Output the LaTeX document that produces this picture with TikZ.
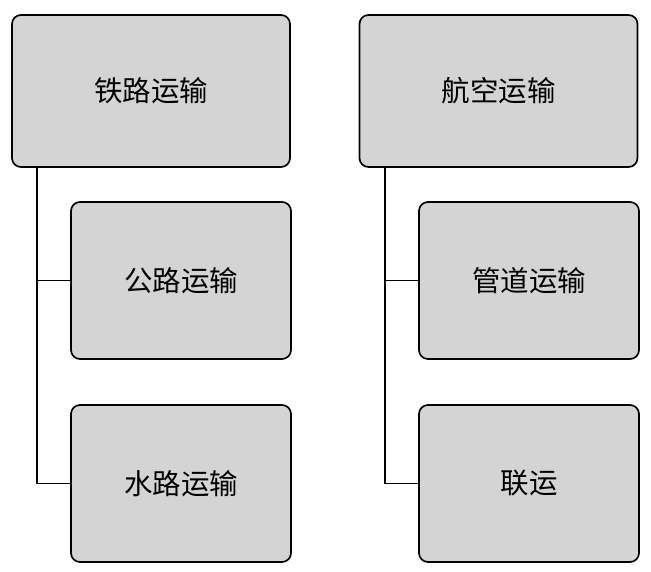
\documentclass[tikz,border=0pt]{standalone}
\usepackage{fontspec}
\newfontfamily\cjk{Noto Sans CJK SC}
\usepackage{tikz}
\usetikzlibrary{positioning}
\definecolor{boxgray}{RGB}{212,212,212}
\tikzset{
	x=1pt, y=-1pt, % pixel-like units, y grows downwards
	every node/.style={font=\cjk\fontsize{28.5}{32}\selectfont},
	topbox/.style={draw, line width=1.7pt, fill=boxgray, rounded corners=9pt,
		minimum width=278pt, minimum height=152pt, inner sep=0pt},
	subbox/.style={topbox, minimum width=220pt, minimum height=157pt},
	link/.style={line width=1.7pt},
}
\begin{document}
\begin{tikzpicture}
	\useasboundingbox (0,0) rectangle (651,572);
	% left column
	\node[topbox] at (151,91) (rail) {铁路运输};
	\node[subbox] at (181,280.5) (road) {公路运输};
	\node[subbox] at (181,483.5) (water) {水路运输};
	% right column
	\node[topbox] at (498.5,91) (air) {航空运输};
	\node[subbox] at (529,280.5) (pipe) {管道运输};
	\node[subbox] at (529,483.5) (joint) {联运};
	% trunks
	\coordinate (railtrunk) at ([xshift=26pt]rail.south west);
	\coordinate (airtrunk) at ([xshift=26pt]air.south west);
	\draw[link] (railtrunk) |- (water.west);
	\draw[link] (road.west) -- (road.west -| railtrunk);
	\draw[link] (airtrunk) |- (joint.west);
	\draw[link] (pipe.west) -- (pipe.west -| airtrunk);
\end{tikzpicture}
\end{document}
